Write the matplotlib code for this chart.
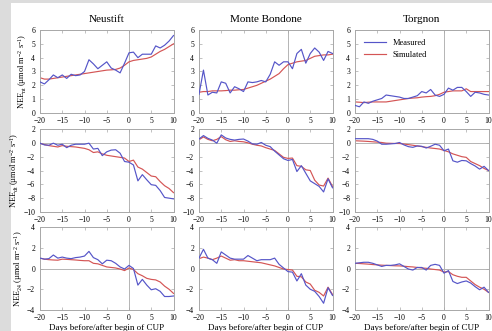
import matplotlib
matplotlib.use("Agg")
import matplotlib.pyplot as plt
from matplotlib.patches import Rectangle
import numpy as np

days = list(range(-20, 11))
sites = ["Neustift", "Monte Bondone", "Torgnon"]
ylabels = ["NEE$_{\\rm nt}$ (µmol m$^{-2}$ s$^{-1}$)",
           "NEE$_{\\rm dt}$ (µmol m$^{-2}$ s$^{-1}$)",
           "NEE$_{\\rm 24}$ (µmol m$^{-2}$ s$^{-1}$)"]
xlabel = "Days before/after begin of CUP"
xticks = [-20, -15, -10, -5, 0, 5, 10]
ylims = [(0, 6), (-10, 2), (-4, 4)]
yticks = [list(range(0, 7)), list(range(-10, 3, 2)), list(range(-4, 5, 2))]

# Row 1: night-time NEE
neu_nt_meas = [2.25, 2.1, 2.4, 2.75, 2.55, 2.75, 2.5, 2.8, 2.7, 2.75, 3.0, 3.85, 3.55, 3.2, 3.45, 3.7,
               3.25, 3.1, 2.9, 3.6, 4.35, 4.4, 4.0, 4.25, 4.25, 4.25, 4.85, 4.7, 4.9, 5.2, 5.6]
neu_nt_sim = [2.55, 2.45, 2.45, 2.5, 2.55, 2.6, 2.65, 2.7, 2.75, 2.8, 2.85, 2.9, 2.95, 3.0, 3.05, 3.1,
              3.12, 3.15, 3.25, 3.45, 3.7, 3.8, 3.85, 3.9, 3.95, 4.05, 4.25, 4.45, 4.6, 4.8, 5.0]
mb_nt_meas = [1.35, 3.1, 1.3, 1.5, 1.45, 2.25, 2.15, 1.45, 1.9, 1.75, 1.55, 2.25, 2.2, 2.25, 2.35, 2.25,
              2.8, 3.7, 3.45, 3.7, 3.7, 3.2, 4.3, 4.6, 3.6, 4.3, 4.7, 4.4, 3.8, 4.45, 4.3]
mb_nt_sim = [1.5, 1.55, 1.55, 1.6, 1.6, 1.6, 1.62, 1.65, 1.65, 1.68, 1.7, 1.8, 1.9, 2.0, 2.15, 2.3,
             2.45, 2.65, 2.85, 3.2, 3.5, 3.6, 3.7, 3.75, 3.8, 3.95, 4.1, 4.15, 4.2, 4.2, 4.25]
tor_nt_meas = [0.55, 0.45, 0.8, 0.7, 0.85, 0.95, 1.05, 1.3, 1.25, 1.2, 1.15, 1.05, 1.05, 1.15, 1.25, 1.55,
               1.45, 1.7, 1.3, 1.2, 1.35, 1.8, 1.65, 1.85, 1.85, 1.55, 1.2, 1.5, 1.45, 1.35, 1.3]
tor_nt_sim = [0.8, 0.78, 0.75, 0.78, 0.8, 0.8, 0.8, 0.8, 0.85, 0.9, 0.95, 1.0, 1.05, 1.08, 1.1, 1.15,
              1.18, 1.2, 1.25, 1.35, 1.5, 1.55, 1.6, 1.6, 1.6, 1.75, 1.55, 1.55, 1.55, 1.55, 1.55]

# Row 2: day-time NEE
neu_dt_meas = [-0.05, -0.3, -0.35, -0.05, -0.35, -0.2, -0.7, -0.35, -0.2, -0.2, -0.2, -0.05, -0.9, -0.8,
               -1.85, -1.3, -1.05, -1.0, -1.5, -2.7, -2.8, -3.2, -5.5, -4.6, -5.35, -6.05, -6.15, -6.9,
               -7.9, -8.0, -8.1]
neu_dt_sim = [-0.1, -0.25, -0.4, -0.5, -0.6, -0.4, -0.5, -0.55, -0.6, -0.7, -0.8, -1.0, -1.4, -1.3,
              -1.6, -1.8, -1.9, -2.0, -2.1, -2.2, -2.7, -2.5, -3.5, -3.8, -4.3, -4.8, -4.9, -5.6,
              -6.2, -6.6, -7.2]
mb_dt_meas = [0.55, 1.05, 0.65, 0.4, -0.05, 1.15, 0.7, 0.5, 0.4, 0.5, 0.55, 0.25, -0.15, -0.2, 0.05,
              -0.35, -0.55, -1.2, -1.75, -2.3, -2.55, -2.4, -4.15, -3.3, -4.4, -5.5, -5.9, -6.3, -7.1,
              -5.2, -6.5]
mb_dt_sim = [0.45, 0.85, 0.5, 0.3, 0.5, 0.9, 0.45, 0.2, 0.3, 0.2, 0.15, 0.0, -0.2, -0.35, -0.45, -0.7,
             -0.9, -1.1, -1.6, -2.1, -2.25, -2.2, -3.3, -3.4, -3.9, -4.0, -5.4, -6.1, -6.25, -5.1, -6.3]
tor_dt_meas = [0.6, 0.6, 0.6, 0.6, 0.5, 0.25, -0.2, -0.2, -0.15, -0.1, 0.05, -0.3, -0.55, -0.65, -0.45,
               -0.5, -0.75, -0.5, -0.2, -0.35, -1.15, -0.9, -2.6, -2.8, -2.55, -2.6, -3.0, -3.35, -3.8,
               -3.4, -4.0]
tor_dt_sim = [0.3, 0.27, 0.24, 0.2, 0.15, 0.1, 0.05, -0.05, -0.07, -0.09, -0.1, -0.18, -0.26, -0.35,
              -0.45, -0.55, -0.65, -0.75, -0.82, -0.9, -1.1, -1.3, -1.6, -1.8, -2.0, -2.1, -2.7, -3.0,
              -3.3, -3.7, -4.0]

# Row 3: daily NEE
neu_24_meas = [1.0, 0.9, 0.95, 1.3, 1.0, 1.1, 1.0, 0.95, 1.05, 1.1, 1.2, 1.65, 1.05, 0.85, 0.45, 0.8,
               0.75, 0.5, 0.15, -0.05, 0.3, 0.0, -1.6, -1.05, -1.6, -2.05, -1.95, -2.2, -2.7, -2.7, -2.65]
neu_24_sim = [1.0, 0.9, 0.85, 0.82, 0.8, 0.9, 0.88, 0.85, 0.82, 0.78, 0.75, 0.75, 0.5, 0.45, 0.3, 0.15,
              0.1, 0.05, -0.05, -0.2, 0.05, -0.1, -0.5, -0.7, -0.95, -1.05, -1.1, -1.3, -1.7, -2.0, -2.4]
mb_24_meas = [1.0, 1.85, 1.0, 0.85, 0.5, 1.6, 1.3, 1.0, 0.9, 0.9, 0.9, 1.25, 1.0, 0.75, 0.85, 0.85,
              0.85, 1.0, 0.4, 0.05, -0.3, -0.35, -1.2, -0.5, -1.6, -2.0, -2.2, -2.7, -3.35, -1.85, -2.6]
mb_24_sim = [0.95, 1.1, 1.0, 0.85, 1.0, 1.2, 1.0, 0.8, 0.85, 0.75, 0.75, 0.7, 0.65, 0.6, 0.55, 0.45,
             0.35, 0.25, 0.1, -0.05, -0.1, -0.15, -0.75, -0.8, -1.3, -1.5, -2.1, -2.3, -2.65, -1.8, -2.5]
tor_24_meas = [0.5, 0.55, 0.6, 0.6, 0.5, 0.35, 0.2, 0.3, 0.3, 0.35, 0.45, 0.2, -0.05, -0.15, 0.1, 0.1,
               -0.15, 0.3, 0.4, 0.3, -0.45, -0.2, -1.25, -1.45, -1.3, -1.2, -1.4, -1.75, -2.05, -1.8, -2.3]
tor_24_sim = [0.5, 0.48, 0.45, 0.42, 0.38, 0.35, 0.32, 0.3, 0.28, 0.26, 0.25, 0.22, 0.18, 0.15, 0.1,
              0.05, 0.02, -0.05, -0.1, -0.15, -0.35, -0.3, -0.6, -0.75, -0.85, -0.85, -1.2, -1.55, -1.8,
              -2.0, -2.3]

measured = [[neu_nt_meas, mb_nt_meas, tor_nt_meas],
            [neu_dt_meas, mb_dt_meas, tor_dt_meas],
            [neu_24_meas, mb_24_meas, tor_24_meas]]
simulated = [[neu_nt_sim, mb_nt_sim, tor_nt_sim],
             [neu_dt_sim, mb_dt_sim, tor_dt_sim],
             [neu_24_sim, mb_24_sim, tor_24_sim]]

plt.rcParams['font.family'] = ['Liberation Serif', 'DejaVu Serif']
plt.rcParams['mathtext.fontset'] = 'custom'
plt.rcParams['mathtext.rm'] = 'Liberation Serif'
plt.rcParams['mathtext.it'] = 'Liberation Serif:italic'

W, H = 492, 331
fig = plt.figure(figsize=(W / 100, H / 100), dpi=100, facecolor='#dcdcdc')
fig.patches.append(Rectangle((11 / W, 0), 1 - 11 / W, (H - 3) / H, transform=fig.transFigure,
                             facecolor='white', edgecolor='none', zorder=-1))

col_left = [40, 199, 355]
col_w = 133.5
row_top = [30, 129, 227]
row_h = 83
blue = '#5555c8'
red = '#d45555'
spine_c = '#a8a8a8'

for r in range(3):
    for c in range(3):
        ax = fig.add_axes([col_left[c] / W, 1 - (row_top[r] + row_h) / H, col_w / W, row_h / H])
        ax.set_facecolor('white')
        ax.axvline(0, color='#b4b4b4', lw=0.7, zorder=1)
        if r > 0:
            ax.axhline(0, color='#b4b4b4', lw=0.7, zorder=1)
        ax.plot(days, measured[r][c], color=blue, lw=0.85, label='Measured', zorder=3)
        ax.plot(days, simulated[r][c], color=red, lw=0.85, label='Simulated', zorder=2)
        ax.set_xlim(-20, 10)
        ax.set_ylim(*ylims[r])
        ax.set_xticks(xticks)
        ax.set_yticks(yticks[r])
        ax.tick_params(axis='x', pad=3)
        ax.tick_params(axis='y', pad=3.5)
        ax.tick_params(direction='in', length=2, width=0.5, colors=spine_c, labelcolor='black',
                       labelsize=5.5, top=True, right=True)
        for s in ax.spines.values():
            s.set_color(spine_c)
            s.set_linewidth(0.7)
        if r == 0:
            ax.set_title(sites[c], fontsize=8, pad=6)
        if r == 2:
            ax.set_xlabel(xlabel, fontsize=6.5, labelpad=1)
        if c == 0:
            ax.set_ylabel(ylabels[r], fontsize=6, labelpad=1.5)
        if r == 0 and c == 2:
            ax.legend(loc='upper left', frameon=False, fontsize=6, handlelength=2.6,
                      borderaxespad=0.4, handletextpad=0.8, labelspacing=0.5,
                      bbox_to_anchor=(0.02, 0.97))

fig.savefig('out.png', dpi=100, facecolor=fig.get_facecolor())
